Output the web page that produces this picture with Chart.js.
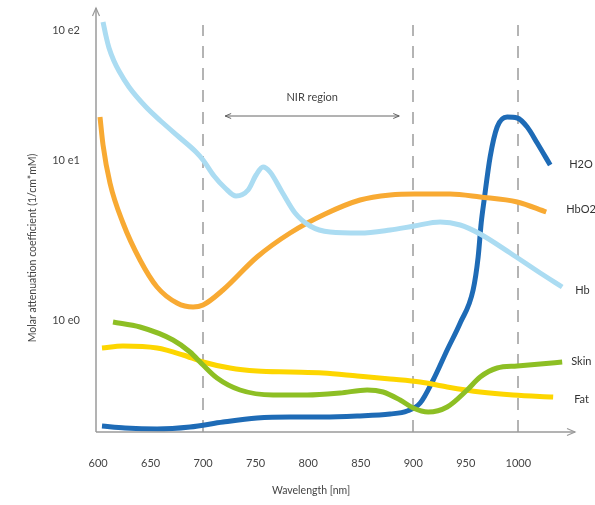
<!DOCTYPE html>
<html>
<head>
<meta charset="utf-8">
<title>Molar attenuation coefficient vs wavelength</title>
<script src="https://cdn.jsdelivr.net/npm/chart.js@4.4.1/dist/chart.umd.min.js"></script>
<style>
  html, body { margin: 0; padding: 0; background: #ffffff; }
  #wrap { width: 595px; height: 505px; }
</style>
</head>
<body>
<div id="wrap"><canvas id="chart" width="595" height="505"></canvas></div>
<script>
// Wavelength axis (nm)
const xTicks = [600, 650, 700, 750, 800, 850, 900, 950, 1000];
const nirBounds = [700, 900];
const markerLines = [700, 900, 1000];

// Attenuation axis: level positions of the decade labels
const yTickValues = [11.2, 27.2, 40.2];
const yTickLabels = ['10 e0', '10 e1', '10 e2'];

// Absorber curves
const h2oWavelengths = [603.7, 625.6, 656.1, 687.5, 719.0, 751.3, 782.8, 814.2, 846.6, 878.0, 894.2, 906.6, 919.0, 932.3, 944.7, 957.0, 961.8, 964.7, 967.5, 973.2, 979.9, 989.4, 999.0, 1008.5, 1018.0, 1030.4];
const h2oValues      = [0.6, 0.4, 0.3, 0.5, 1.0, 1.4, 1.5, 1.5, 1.6, 1.8, 2.1, 2.9, 5.2, 8.2, 10.9, 14.2, 17.5, 20.9, 23.2, 27.5, 30.5, 31.5, 31.4, 30.5, 28.9, 26.7];

const hbo2Wavelengths = [601.8, 604.7, 611.3, 623.7, 639.9, 656.1, 675.1, 690.4, 699.9, 718.9, 751.3, 782.8, 816.1, 849.4, 878.0, 900.9, 935.1, 963.7, 999.0, 1026.6];
const hbo2Values      = [31.5, 28.7, 24.9, 20.9, 17.2, 14.5, 12.9, 12.5, 12.7, 14.2, 17.5, 19.9, 21.8, 23.2, 23.7, 23.8, 23.8, 23.5, 23.0, 22.0];

const hbWavelengths = [604.7, 607.5, 610.4, 615.1, 619.9, 629.4, 645.6, 661.8, 677.0, 693.2, 699.9, 710.4, 720.9, 731.3, 742.8, 750.4, 757.0, 763.7, 775.1, 787.5, 801.8, 820.9, 849.4, 878.0, 900.9, 925.6, 944.7, 963.7, 992.3, 1020.9, 1041.8];
const hbValues      = [41.0, 39.6, 38.4, 37.1, 36.1, 34.5, 32.5, 30.9, 29.5, 28.0, 27.2, 25.6, 24.4, 23.6, 24.2, 25.7, 26.5, 26.0, 24.0, 21.9, 20.6, 20.0, 19.9, 20.2, 20.6, 21.0, 20.7, 19.8, 17.9, 15.9, 14.5];

const skinWavelengths = [614.2, 639.9, 671.3, 687.5, 699.9, 713.2, 735.1, 766.6, 799.0, 830.4, 856.1, 871.3, 887.5, 899.9, 914.2, 932.3, 951.3, 963.7, 979.9, 999.0, 1020.9, 1041.8];
const skinValues      = [11.0, 10.5, 9.2, 8.0, 6.7, 5.4, 4.2, 3.7, 3.7, 3.9, 4.2, 4.0, 3.2, 2.4, 2.0, 2.5, 4.2, 5.5, 6.4, 6.6, 6.8, 7.0];

const fatWavelengths = [603.7, 623.7, 656.1, 680.9, 699.9, 725.6, 751.3, 782.8, 814.2, 846.6, 878.0, 906.6, 932.3, 963.7, 995.1, 1033.2];
const fatValues      = [8.4, 8.6, 8.4, 7.7, 7.0, 6.4, 6.1, 6.0, 5.9, 5.6, 5.3, 5.0, 4.5, 4.0, 3.7, 3.5];

const seriesNames = ['H2O', 'HbO2', 'Hb', 'Skin', 'Fat'];

const FONT = 'Lato, "Open Sans", sans-serif';

function pts(xs, ys) { return xs.map((x, i) => ({ x: x, y: ys[i] })); }

function series(label, xs, ys, color, labelDx, labelDy) {
  return {
    label: label,
    data: pts(xs, ys),
    borderColor: color,
    backgroundColor: color,
    borderWidth: 5,
    pointRadius: 0,
    pointHoverRadius: 0,
    fill: false,
    cubicInterpolationMode: 'monotone',
    borderCapStyle: 'butt',
    labelDx: labelDx,
    labelDy: labelDy
  };
}

function arrowHead(ctx, x, y, dir, size, half) {
  ctx.beginPath();
  if (dir === 'up') {
    ctx.moveTo(x - half, y + size); ctx.lineTo(x, y); ctx.lineTo(x + half, y + size);
  } else if (dir === 'right') {
    ctx.moveTo(x - size, y - half); ctx.lineTo(x, y); ctx.lineTo(x - size, y + half);
  } else {
    ctx.moveTo(x + size, y - half); ctx.lineTo(x, y); ctx.lineTo(x + size, y + half);
  }
  ctx.stroke();
}

// Dashed wavelength markers, drawn under the curves (dashes run up from the axis)
const markerPlugin = {
  id: 'markers',
  beforeDatasetsDraw(chart) {
    const { ctx, chartArea, scales } = chart;
    ctx.save();
    ctx.strokeStyle = '#b4b4b4';
    ctx.lineWidth = 2;
    ctx.setLineDash([12, 10]);
    markerLines.forEach(w => {
      const x = Math.round(scales.x.getPixelForValue(w));
      ctx.beginPath();
      ctx.moveTo(x, chartArea.bottom);
      ctx.lineTo(x, chartArea.top + 17);
      ctx.stroke();
    });
    ctx.restore();
  }
};

// Axes with arrows, titles, NIR span and curve names
const decorPlugin = {
  id: 'decor',
  afterDatasetsDraw(chart) {
    const { ctx, chartArea, scales } = chart;
    const l = chartArea.left, b = chartArea.bottom, t = chartArea.top, r = chartArea.right;
    ctx.save();

    // axis lines
    ctx.strokeStyle = '#9a9a9a';
    ctx.lineWidth = 1.5;
    ctx.beginPath();
    ctx.moveTo(l, b); ctx.lineTo(l, t);
    ctx.moveTo(l, b); ctx.lineTo(r, b);
    ctx.stroke();
    ctx.lineWidth = 1.2;
    arrowHead(ctx, l, t, 'up', 8, 3.5);
    arrowHead(ctx, r, b, 'right', 8, 3.5);

    // NIR region span
    const x0 = scales.x.getPixelForValue(nirBounds[0]) + 22;
    const x1 = scales.x.getPixelForValue(nirBounds[1]) - 14;
    const ya = 116;
    ctx.strokeStyle = '#555555';
    ctx.lineWidth = 0.9;
    ctx.beginPath();
    ctx.moveTo(x0, ya); ctx.lineTo(x1, ya);
    ctx.stroke();
    arrowHead(ctx, x0, ya, 'left', 6, 2.5);
    arrowHead(ctx, x1, ya, 'right', 6, 2.5);
    ctx.fillStyle = '#444444';
    ctx.font = '11px ' + FONT;
    ctx.textAlign = 'center';
    ctx.textBaseline = 'middle';
    ctx.fillText('NIR region', (x0 + x1) / 2, 97);

    // axis titles
    ctx.fillStyle = '#444444';
    ctx.font = '10.5px ' + FONT;
    ctx.fillText('Wavelength [nm]', 311, 491);
    ctx.save();
    ctx.translate(33, 248);
    ctx.rotate(-Math.PI / 2);
    ctx.fillText('Molar attenuation coefficient (1/cm*mM)', 0, 0);
    ctx.restore();

    // curve names at the right end of each curve
    ctx.font = '11px ' + FONT;
    ctx.textAlign = 'left';
    ctx.fillStyle = '#333333';
    chart.data.datasets.forEach(ds => {
      const last = ds.data[ds.data.length - 1];
      const px = scales.x.getPixelForValue(last.x);
      const py = scales.y.getPixelForValue(last.y);
      ctx.fillText(ds.label, px + ds.labelDx, py + ds.labelDy);
    });

    ctx.restore();
  }
};

new Chart(document.getElementById('chart'), {
  type: 'line',
  data: {
    datasets: [
      series(seriesNames[3], skinWavelengths, skinValues, '#8dbf24', 9, -1),
      series(seriesNames[4], fatWavelengths, fatValues, '#fdd600', 21, 2),
      series(seriesNames[2], hbWavelengths, hbValues, '#abdcf2', 13, 3),
      series(seriesNames[1], hbo2Wavelengths, hbo2Values, '#f8aa33', 20, -3),
      series(seriesNames[0], h2oWavelengths, h2oValues, '#1e6bb6', 19, -1)
    ]
  },
  options: {
    responsive: false,
    animation: false,
    events: [],
    layout: { padding: { top: 8, right: 20, left: 0, bottom: 0 } },
    plugins: {
      legend: { display: false },
      tooltip: { enabled: false },
      title: { display: false }
    },
    scales: {
      x: {
        type: 'linear',
        min: 598,
        max: 1054,
        border: { display: false },
        grid: { display: false, drawTicks: false },
        afterBuildTicks(s) { s.ticks = xTicks.map(v => ({ value: v })); },
        afterFit(s) { s.height = 73; s.paddingLeft = 0; s.paddingRight = 0; },
        ticks: {
          padding: 25,
          color: '#444444',
          font: { family: FONT, size: 11 },
          maxRotation: 0,
          autoSkip: false,
          callback: v => String(v)
        },
        title: { display: false }
      },
      y: {
        type: 'linear',
        min: 0,
        max: 42.4,
        border: { display: false },
        grid: { display: false, drawTicks: false },
        afterBuildTicks(s) { s.ticks = yTickValues.map(v => ({ value: v })); },
        afterFit(s) { s.width = 96; s.paddingTop = 0; s.paddingBottom = 0; },
        ticks: {
          padding: 16,
          color: '#444444',
          font: { family: FONT, size: 11 },
          autoSkip: false,
          callback: v => {
            const i = yTickValues.indexOf(v);
            return i >= 0 ? yTickLabels[i] : '';
          }
        },
        title: { display: false }
      }
    }
  },
  plugins: [markerPlugin, decorPlugin]
});
</script>
</body>
</html>
